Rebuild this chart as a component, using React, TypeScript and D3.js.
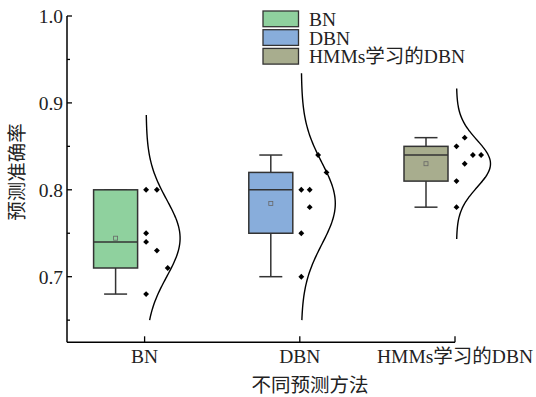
import React from "react";
import * as d3 from "d3";

// Prediction accuracy of each method (seven runs each)
const categories = ["BN", "DBN", "HMMs学习的DBN"];
const bnValues = [0.8, 0.8, 0.75, 0.74, 0.73, 0.71, 0.68];
const dbnValues = [0.84, 0.82, 0.8, 0.8, 0.78, 0.75, 0.7];
const hmmValues = [0.86, 0.85, 0.84, 0.84, 0.83, 0.81, 0.78];
// column slot of each raw point in the scatter strip
const bnColumns = [0, 1, 0, 0, 1, 2, 0];
const dbnColumns = [2, 3, 0, 1, 1, 0, 0];
const hmmColumns = [1, 0, 2, 3, 1, 0, 0];
const fills = ["#8fd19e", "#88addb", "#a8ad8e"];
const majorTicks = [0.7, 0.8, 0.9, 1.0];
const minorTicks = [0.65, 0.75, 0.85, 0.95];

const W = 536;
const H = 397;
const LATIN = "'Liberation Serif', 'Times New Roman', serif";
const CJK = "'Liberation Serif', 'Noto Sans CJK SC', serif";
const FS = 19.5;

const groups = [
  { values: bnValues, columns: bnColumns, spacing: 10.8 },
  { values: dbnValues, columns: dbnColumns, spacing: 8.4 },
  { values: hmmValues, columns: hmmColumns, spacing: 8.2 },
];

// quartile by the (n+1)p rule
function quartile(sorted: number[], p: number) {
  const n = sorted.length;
  const h = (n + 1) * p;
  const lo = Math.floor(h);
  const frac = h - lo;
  const a = sorted[Math.max(0, Math.min(n - 1, lo - 1))];
  const b = sorted[Math.max(0, Math.min(n - 1, lo))];
  return a + frac * (b - a);
}

export default function App() {
  const x = d3.scaleLinear().domain([0.5, 3]).range([67, 455]);
  const y = d3.scaleLinear().domain([0.6245, 1.0]).range([342.3, 16]);
  const axisBottom = y.range()[0];
  const axisLeft = x.range()[0];

  const boxOffset = -29;
  const boxW = 44;
  const capW = 23;
  const curveBase = 1.5;
  const curveAmp = 34;
  const curveFloor = 0.65;

  const diamond = d3.symbol().type(d3.symbolDiamond2).size(22)()!;
  const legendX = 263;
  const legendY = 11;
  const legendStep = 18.7;

  return (
    <svg
      width={W}
      height={H}
      style={{ position: "absolute", left: 0, top: 0, background: "#fff" }}
    >
      {groups.map((g, i) => {
        const cx = x(i + 1);
        const sorted = [...g.values].sort((a, b) => a - b);
        const q1 = quartile(sorted, 0.25);
        const q3 = quartile(sorted, 0.75);
        const med = d3.median(sorted)!;
        const mean = d3.mean(sorted)!;
        const sd = d3.deviation(sorted)!;
        const lo = d3.min(sorted)!;
        const hi = d3.max(sorted)!;
        const bx = cx + boxOffset;

        const cLo = Math.max(mean - 3.2 * sd, curveFloor);
        const cHi = mean + 3.2 * sd;
        const samples = d3.range(0, 121).map((k) => cLo + ((cHi - cLo) * k) / 120);
        const line = d3
          .line<number>()
          .x((v) => cx + curveBase + curveAmp * Math.exp(-0.5 * ((v - mean) / sd) ** 2))
          .y((v) => y(v))
          .curve(d3.curveBasis);

        return (
          <g key={i}>
            {/* whiskers */}
            <line x1={bx} x2={bx} y1={y(hi)} y2={y(q3)} stroke="#333" strokeWidth={1.5} />
            <line x1={bx} x2={bx} y1={y(q1)} y2={y(lo)} stroke="#333" strokeWidth={1.5} />
            <line x1={bx - capW / 2} x2={bx + capW / 2} y1={y(hi)} y2={y(hi)} stroke="#333" strokeWidth={1.5} />
            <line x1={bx - capW / 2} x2={bx + capW / 2} y1={y(lo)} y2={y(lo)} stroke="#333" strokeWidth={1.5} />
            {/* box */}
            <rect
              x={bx - boxW / 2}
              y={y(q3)}
              width={boxW}
              height={y(q1) - y(q3)}
              fill={fills[i]}
              stroke="#333"
              strokeWidth={1.5}
            />
            <line x1={bx - boxW / 2} x2={bx + boxW / 2} y1={y(med)} y2={y(med)} stroke="#333" strokeWidth={1.5} />
            {/* mean */}
            <rect x={bx - 2} y={y(mean) - 2} width={4} height={4} fill="none" stroke="#666" strokeWidth={0.8} />
            {/* raw points */}
            {g.values.map((v, j) => (
              <path
                key={j}
                d={diamond}
                transform={`translate(${cx + curveBase + g.columns[j] * g.spacing},${y(v)})`}
                fill="#000"
              />
            ))}
            {/* normal distribution curve */}
            <path d={line(samples)!} fill="none" stroke="#000" strokeWidth={1.4} />
          </g>
        );
      })}

      {/* axes */}
      <line x1={axisLeft} x2={axisLeft} y1={y(1.0)} y2={axisBottom} stroke="#000" strokeWidth={1.5} />
      <line x1={axisLeft} x2={x(3)} y1={axisBottom} y2={axisBottom} stroke="#000" strokeWidth={1.5} />
      {majorTicks.map((t) => (
        <g key={t}>
          <line x1={axisLeft} x2={axisLeft + 5} y1={y(t)} y2={y(t)} stroke="#000" strokeWidth={1.3} />
          <text
            x={axisLeft - 4}
            y={y(t)}
            dy="0.35em"
            textAnchor="end"
            fontFamily={LATIN}
            fontSize={FS}
            fill="#222"
          >
            {t.toFixed(1)}
          </text>
        </g>
      ))}
      {minorTicks.map((t) => (
        <line key={t} x1={axisLeft} x2={axisLeft + 3} y1={y(t)} y2={y(t)} stroke="#000" strokeWidth={1.3} />
      ))}
      {categories.map((c, i) => (
        <g key={c}>
          <line x1={x(i + 1)} x2={x(i + 1)} y1={axisBottom} y2={axisBottom - 6} stroke="#000" strokeWidth={1.3} />
          <text
            x={x(i + 1)}
            y={axisBottom + 21}
            textAnchor="middle"
            fontFamily={CJK}
            fontSize={FS}
            fill="#222"
          >
            {c}
          </text>
        </g>
      ))}

      {/* axis titles */}
      <text x={310} y={392} textAnchor="middle" fontFamily={CJK} fontSize={FS} fill="#222">
        不同预测方法
      </text>
      <text
        transform={`translate(24,172) rotate(-90)`}
        textAnchor="middle"
        fontFamily={CJK}
        fontSize={FS}
        fill="#222"
      >
        预测准确率
      </text>

      {/* legend */}
      {categories.map((c, i) => (
        <rect
          key={c}
          x={legendX}
          y={legendY + i * legendStep}
          width={35.5}
          height={15.7}
          fill={fills[i]}
          stroke="#333"
          strokeWidth={1.3}
        />
      ))}
      <text fontFamily={CJK} fontSize={FS} fill="#222">
        {categories.map((c, i) => (
          <tspan key={c} x={legendX + 46} y={legendY + 14.8 + i * legendStep}>
            {c}
          </tspan>
        ))}
      </text>
    </svg>
  );
}
